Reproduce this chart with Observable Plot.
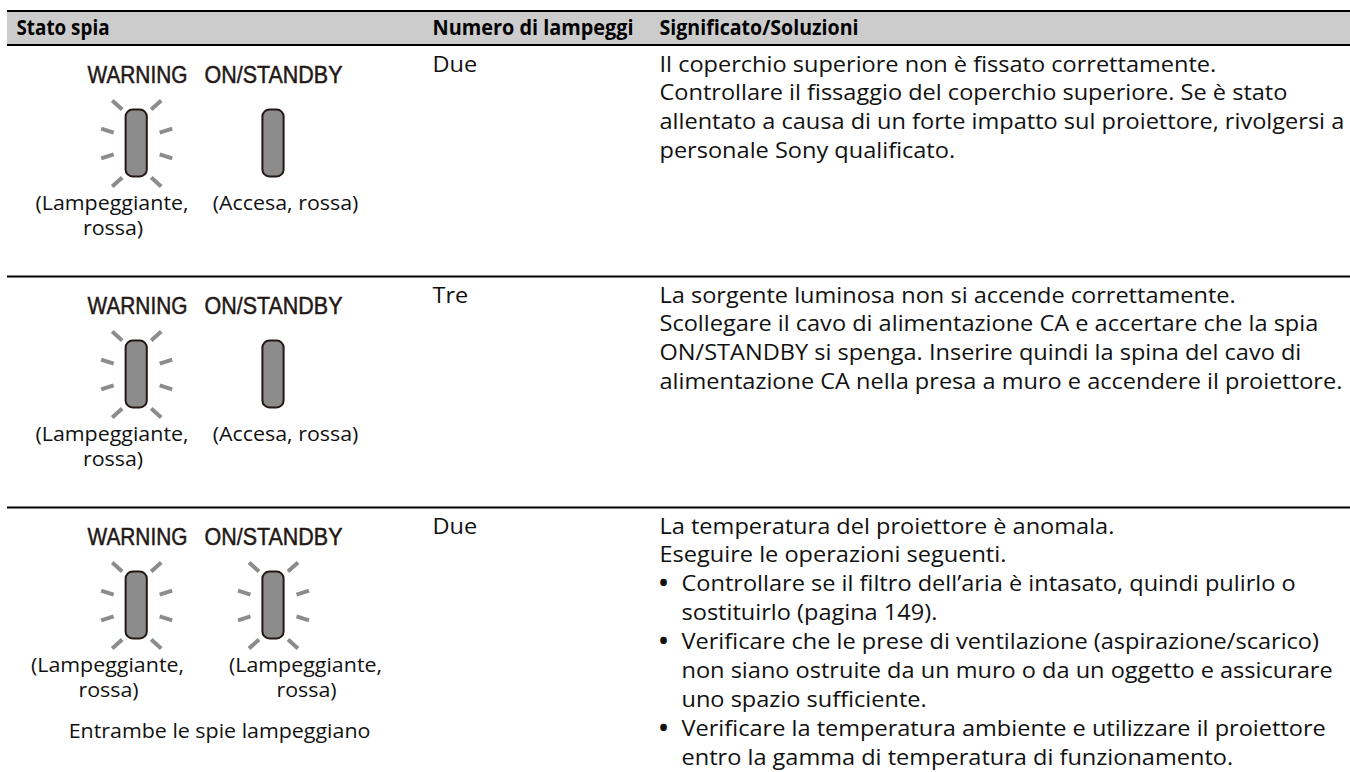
<!DOCTYPE html>
<html><head><meta charset="utf-8">
<script src="https://cdn.jsdelivr.net/npm/d3@7"></script>
<script src="https://cdn.jsdelivr.net/npm/@observablehq/plot@0.6"></script>
<style>html,body{margin:0;padding:0;background:#fff}svg{display:block}</style>
</head><body><div id="chart"></div>
<script>
// ---- content ----
const headers = ["Stato spia", "Numero di lampeggi", "Significato/Soluzioni"];
const ledNames = ["WARNING", "ON/STANDBY"];
const blinkCounts = ["Due", "Tre", "Due"];
const ledStates = [["Lampeggiante", "Accesa"], ["Lampeggiante", "Accesa"], ["Lampeggiante", "Lampeggiante"]];
const note = "Entrambe le spie lampeggiano";
const solutions = [
  [["", "Il coperchio superiore non è fissato correttamente."],
   ["", "Controllare il fissaggio del coperchio superiore. Se è stato"],
   ["", "allentato a causa di un forte impatto sul proiettore, rivolgersi a"],
   ["", "personale Sony qualificato."]],
  [["", "La sorgente luminosa non si accende correttamente."],
   ["", "Scollegare il cavo di alimentazione CA e accertare che la spia"],
   ["", "ON/STANDBY si spenga. Inserire quindi la spina del cavo di"],
   ["", "alimentazione CA nella presa a muro e accendere il proiettore."]],
  [["", "La temperatura del proiettore è anomala."],
   ["", "Eseguire le operazioni seguenti."],
   ["•", "Controllare se il filtro dell’aria è intasato, quindi pulirlo o"],
   [" ", "sostituirlo (pagina 149)."],
   ["•", "Verificare che le prese di ventilazione (aspirazione/scarico)"],
   [" ", "non siano ostruite da un muro o da un oggetto e assicurare"],
   [" ", "uno spazio sufficiente."],
   ["•", "Verificare la temperatura ambiente e utilizzare il proiettore"],
   [" ", "entro la gamma di temperatura di funzionamento."]]
];

// ---- layout (page units) ----
const W = 1350, H = 772, rowStep = 231;
const BODY = "'Open Sans'", STRETCH = 1.07;
const colX = [16, 432, 659];
const headWidths = [93, 201, 199];
const nameWidths = [100, 138];
const ledX = [136.2, 273];
const ledCY = 143, ledHW = 10.6, ledHH = 33.4;
const rays = [[-24.5,-43,-14.5,-34],[24.5,-43,14.5,-34],[-35.5,-14.8,-23,-10.8],[35.5,-14.8,23,-10.8],
              [-35.5,14.8,-23,10.8],[35.5,14.8,23,10.8],[-24.5,43,-14.5,34],[24.5,43,14.5,34]];
const rows = d3.range(3);

const bands = [{x1: 7, x2: W, y1: 10, y2: 44}];
const rules = [10.5, 44.5, 276, 507];

const leds = rows.flatMap(r => ledX.map((cx, i) => ({cx, cy: ledCY + r * rowStep, state: ledStates[r][i]})));
const rayLinks = leds.filter(d => d.state === "Lampeggiante").flatMap(d =>
  rays.map(([a, b, c, e]) => ({x1: d.cx + a, y1: d.cy + b, x2: d.cx + c, y2: d.cy + e})));

const nameLabels = rows.flatMap(r => ledNames.map((t, i) => ({t, x: i ? 273 : 137, y: 82.5 + r * rowStep, w: nameWidths[i]})));

const stateLabels = [];
rows.forEach(r => ledStates[r].forEach((s, i) => {
  const y = 209 + r * rowStep;
  if (s === "Accesa") stateLabels.push({t: "(Accesa, rossa)", x: 285, y});
  else {
    const x = r === 2 ? (i ? 305 : 107) : 111.5;
    stateLabels.push({t: "(Lampeggiante,", x, y}, {t: "rossa)", x: x + 1, y: y + 25.5});
  }
}));
stateLabels.push({t: note, x: 219, y: 737});

const bodyLines = [];
const bullets = [];
rows.forEach(r => {
  bodyLines.push({t: blinkCounts[r], x: colX[1], y: 71 + r * rowStep});
  solutions[r].forEach(([b, t], l) => {
    const y = 71 + r * rowStep + l * 28.9;
    bodyLines.push({t, x: b ? 681 : colX[2], y});
    if (b === "•") bullets.push({t: b, x: 663, y});
  });
});
const headLabels = headers.map((t, i) => ({t, x: colX[i], y: 34, w: headWidths[i]}));

const plot = Plot.plot({
  width: W, height: H, margin: 0,
  x: {domain: [0, W], range: [0, W], axis: null},
  y: {domain: [0, H], range: [0, H], axis: null},
  marks: [
    Plot.rect(bands, {x1: "x1", x2: "x2", y1: "y1", y2: "y2", fill: "#cccccc"}),
    Plot.ruleY(rules, {x1: 7, x2: W, stroke: "#000", strokeWidth: 2}),
    Plot.link(rayLinks, {x1: "x1", y1: "y1", x2: "x2", y2: "y2", stroke: "#8c8c8c", strokeWidth: 4}),
    Plot.rect(leds, {x1: d => d.cx - ledHW, x2: d => d.cx + ledHW, y1: d => d.cy - ledHH, y2: d => d.cy + ledHH,
      fill: "#8c8c8c", stroke: "#231815", strokeWidth: 2, rx: 7}),
    Plot.text(nameLabels, {x: "x", y: "y", text: "t", lineAnchor: "bottom", fontFamily: "'Liberation Sans'", fontSize: 24.5, fill: "#231815", stroke: "#231815", strokeWidth: 0.5, className: "fit"}),
    Plot.text(stateLabels, {x: "x", y: "y", text: "t", lineAnchor: "bottom", fontFamily: BODY, fontSize: 20, fill: "#111", className: "wide"}),
    Plot.text(bodyLines, {x: "x", y: "y", text: "t", textAnchor: "start", lineAnchor: "bottom", fontFamily: BODY, fontSize: 22, fill: "#111", className: "wide"}),
    Plot.text(bullets, {x: "x", y: "y", text: "t", lineAnchor: "bottom", fontFamily: BODY, fontSize: 24, fontWeight: 700, fill: "#111"}),
    Plot.text(headLabels, {x: "x", y: "y", text: "t", textAnchor: "start", lineAnchor: "bottom", fontFamily: BODY, fontSize: 21.5, fontWeight: 700, fill: "#000", className: "fit"})
  ]
});
document.getElementById("chart").append(plot);
// The reference typeface is wider than the installed one: stretch the glyphs to match.
d3.select(plot).selectAll("g.wide text").each(function () {
  this.setAttribute("textLength", this.getComputedTextLength() * STRETCH);
  this.setAttribute("lengthAdjust", "spacingAndGlyphs");
});
d3.select(plot).selectAll("g.fit text").each(function () {
  const src = [...nameLabels, ...headLabels].find(d => d.t === this.textContent);
  this.setAttribute("textLength", src.w);
  this.setAttribute("lengthAdjust", "spacingAndGlyphs");
});
</script></body></html>
